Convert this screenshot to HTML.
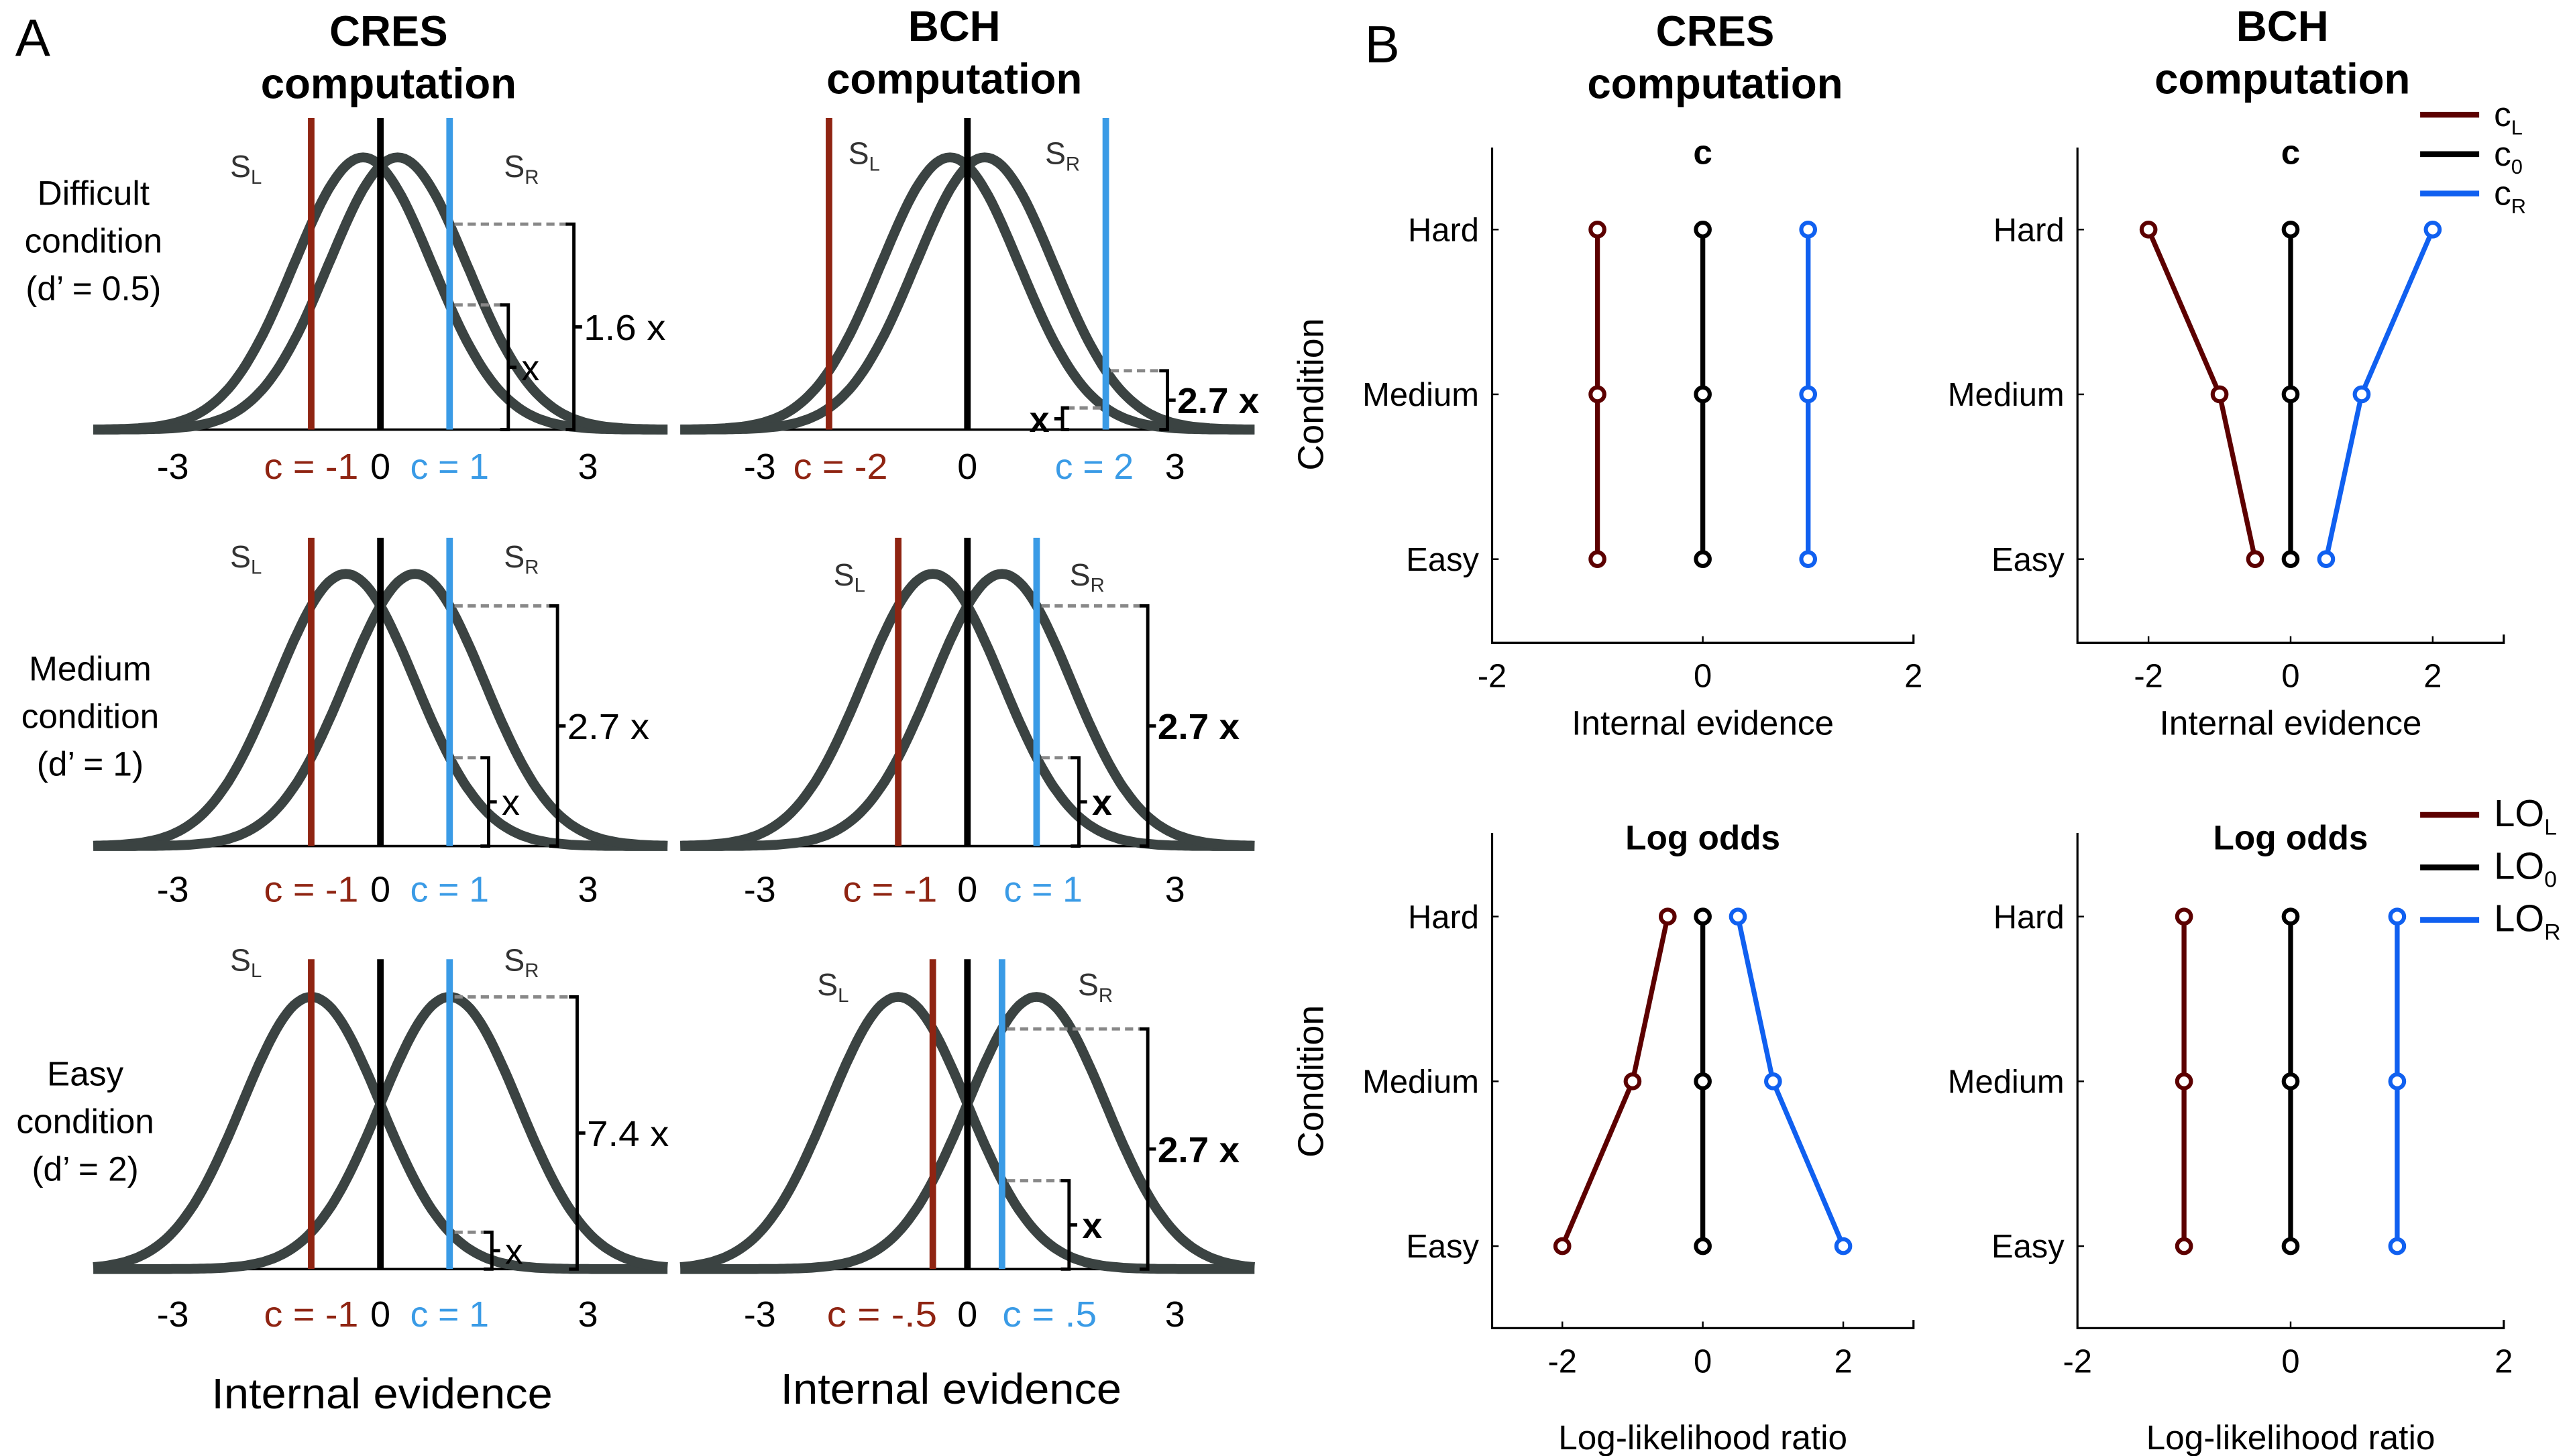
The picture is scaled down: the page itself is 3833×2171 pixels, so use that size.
<!DOCTYPE html>
<html><head><meta charset="utf-8"><style>
html,body{margin:0;padding:0;background:#fff}
svg{display:block}
text{font-family:"Liberation Sans",sans-serif}
</style></head><body>
<svg id="fig" width="3833" height="2171" viewBox="0 0 1568 888" preserveAspectRatio="none" xmlns="http://www.w3.org/2000/svg">
<rect width="1568" height="888" fill="#fff"/>
<g id="A"></g>
<g id="B"></g>
</svg>
<script>
// ---------- Panel A data ----------
const rowDprime = [0.5, 1, 2];
const cresCrit = [1, 1, 1];
const bchCrit = [2, 1, 0.5];
const condLabels = [["Difficult","condition","(d’ = 0.5)"],["Medium","condition","(d’ = 1)"],["Easy","condition","(d’ = 2)"]];
const cresRatios = ["1.6 x","2.7 x","7.4 x"];
const bchRatios = ["2.7 x","2.7 x","2.7 x"];
const cresCritLabels = [["c = -1","c = 1"],["c = -1","c = 1"],["c = -1","c = 1"]];
const bchCritLabels = [["c = -2","c = 2"],["c = -1","c = 1"],["c = -.5","c = .5"]];

// ---------- Panel B data ----------
const conditions = ["Hard","Medium","Easy"];
const cresC_L = [-1,-1,-1], cresC_0 = [0,0,0], cresC_R = [1,1,1];
const bchC_L = [-2,-1,-0.5], bchC_0 = [0,0,0], bchC_R = [2,1,0.5];
const cresLO_L = [-0.5,-1,-2], cresLO_0 = [0,0,0], cresLO_R = [0.5,1,2];
const bchLO_L = [-1,-1,-1], bchLO_0 = [0,0,0], bchLO_R = [1,1,1];
const ticksTop1 = [-2,0,2], ticksTop2 = [-2,0,2], ticksBot1 = [-2,0,2], ticksBot2 = [-2,0,2];

const NS="http://www.w3.org/2000/svg";
function mk(parent,tag,attrs,txt){const e=document.createElementNS(NS,tag);for(const k in attrs)e.setAttribute(k,attrs[k]);if(txt!==undefined)e.textContent=txt;parent.appendChild(e);return e;}
const A=document.getElementById('A'), B=document.getElementById('B');

function txt(p,x,y,s,size,opts){opts=opts||{};const t=mk(p,'text',{x:x,y:y,'font-size':size,'text-anchor':opts.anchor||'middle',fill:opts.fill||'#000','font-weight':opts.bold?'bold':'normal'},s);
if(opts.len){t.setAttribute('textLength',opts.len);t.setAttribute('lengthAdjust','spacingAndGlyphs');}

return t;}

txt(A,20,34,"A",32,{name:'panel-a-letter'});
txt(A,237,28,"CRES",26,{bold:1,name:'cres-title'});
txt(A,237,60,"computation",26,{bold:1,name:'cres-title'});
txt(A,582,25,"BCH",26,{bold:1,name:'bch-title'});
txt(A,582,57,"computation",26,{bold:1,name:'bch-title'});
txt(A,843,38,"B",32,{name:'panel-b-letter'});

const RED_A="#8f2412", BLUE_A="#3a9be6", CURVE="#3b4342";
const baseY=[262,516,774], topY=[72,328,585], Hh=166;
const cols=[{x0:232,s:42.2,crit:cresCrit,ratio:cresRatios,cl:cresCritLabels,name:'cres',big:[350,340,352],small:[310,298,300],lo:[0,0,0],ro:[0,0,0]},
            {x0:590,s:42.2,crit:bchCrit,ratio:bchRatios,cl:bchCritLabels,name:'bch',big:[712,700,700],small:[648,658,652],lo:[7,-5,-31],ro:[-7,4,29]}];
const slPos=[[[150,108],[318,108],[527,100],[648,100]],[[150,346],[318,346],[518,357],[663,357]],[[150,592],[318,592],[508,607],[668,607]]];
const tickY=[292,550,809];
for(let r=0;r<3;r++){
  const d=rowDprime[r];
  condLabels[r].forEach((l,i)=>txt(A,[57,55,52][r],[125,415,662][r]+i*29,l,21,{name:'condition-label'}));
  cols.forEach((c,ci)=>{
    const g=mk(A,'g',{});
    
    
    const X=v=>c.x0+v*c.s, Y=p=>baseY[r]-Hh*p;
    mk(g,'line',{x1:X(-4.1),x2:X(4.1),y1:baseY[r],y2:baseY[r],stroke:'#000','stroke-width':1.5});
    [-d/2,d/2].forEach(mu=>{let pts=[];for(let v=-4.15;v<=4.16;v+=0.05){pts.push(X(v).toFixed(1)+','+Y(Math.exp(-(v-mu)*(v-mu)/2)).toFixed(1));}
      const pl=mk(g,'polyline',{points:pts.join(' '),fill:'none',stroke:CURVE,'stroke-width':6});
      });
    const cr=c.crit[r];
    [[-cr,RED_A],[0,'#000'],[cr,BLUE_A]].forEach(([v,col])=>{const l=mk(g,'line',{x1:X(v),x2:X(v),y1:topY[r],y2:baseY[r],stroke:col,'stroke-width':4});
      });
    const sp=slPos[r];
    const sl=mk(g,'text',{x:sp[ci*2][0],y:sp[ci*2][1],'font-size':19,fill:'#333','text-anchor':'middle'});sl.innerHTML='S<tspan font-size="12" dy="4">L</tspan>';
    
    const sr=mk(g,'text',{x:sp[ci*2+1][0],y:sp[ci*2+1][1],'font-size':19,fill:'#333','text-anchor':'middle'});sr.innerHTML='S<tspan font-size="12" dy="4">R</tspan>';
    
    const lw=s=>s.length*9.6;
    txt(g,X(-3),tickY[r],"-3",22,{name:'tick-label'});
    txt(g,X(3),tickY[r],"3",22,{name:'tick-label'});
    txt(g,X(0),tickY[r],"0",22,{name:'tick-label'});
    txt(g,X(-cr)+c.lo[r],tickY[r],c.cl[r][0],22,{fill:RED_A,name:'criterion-label',len:lw(c.cl[r][0])});
    txt(g,X(cr)+c.ro[r],tickY[r],c.cl[r][1],22,{fill:BLUE_A,name:'criterion-label',len:lw(c.cl[r][1])});
    const pdf=(v,mu)=>Math.exp(-(v-mu)*(v-mu)/2);
    const yBig=Y(pdf(cr,d/2)), ySmall=Y(pdf(cr,-d/2));
    const bxBig=c.big[r], bxSmall=c.small[r];
    const an=mk(g,'g',{});
    mk(an,'line',{x1:X(cr)+3,x2:bxBig-4,y1:yBig,y2:yBig,stroke:'#888','stroke-width':2,'stroke-dasharray':'5,3'});
    mk(an,'path',{d:`M${bxBig-5},${yBig} H${bxBig} V${baseY[r]} H${bxBig-5} M${bxBig},${(yBig+baseY[r])/2} h5`,fill:'none',stroke:'#000','stroke-width':2});
    txt(an,bxBig+6,(yBig+baseY[r])/2+8,c.ratio[r],22,{anchor:'start',bold:ci?1:0,name:'ratio-label',len:50});
    if(ci&&r==0){
      mk(an,'line',{x1:X(cr)-3,x2:bxSmall,y1:ySmall,y2:ySmall,stroke:'#888','stroke-width':2,'stroke-dasharray':'5,3'});
      mk(an,'path',{d:`M${bxSmall+4},${ySmall} H${bxSmall} V${baseY[r]} H${bxSmall+4} M${bxSmall},${(ySmall+baseY[r])/2} h-5`,fill:'none',stroke:'#000','stroke-width':2});
      txt(an,bxSmall-8,(ySmall+baseY[r])/2+8,"x",22,{anchor:'end',bold:1,name:'ratio-x'});
    } else {
      mk(an,'line',{x1:X(cr)+3,x2:bxSmall-4,y1:ySmall,y2:ySmall,stroke:'#888','stroke-width':2,'stroke-dasharray':'5,3'});
      mk(an,'path',{d:`M${bxSmall-5},${ySmall} H${bxSmall} V${baseY[r]} H${bxSmall-5} M${bxSmall},${(ySmall+baseY[r])/2} h5`,fill:'none',stroke:'#000','stroke-width':2});
      txt(an,bxSmall+8,(ySmall+baseY[r])/2+8,"x",22,{anchor:'start',bold:ci?1:0,name:'ratio-x'});
    }
  });
}
txt(A,233,859,"Internal evidence",26,{name:'x-axis-title',len:208});
txt(A,580,856,"Internal evidence",26,{name:'x-axis-title',len:208});

// ---------- Panel B ----------
txt(B,1046,28,"CRES",26,{bold:1,name:'cres-title-b'});
txt(B,1046,60,"computation",26,{bold:1,name:'cres-title-b'});
txt(B,1392,25,"BCH",26,{bold:1,name:'bch-title-b'});
txt(B,1392,57,"computation",26,{bold:1,name:'bch-title-b'});
const RED_B="#5c0000", BLUE_B="#1060f0";
function plot(o){
  const g=mk(B,'g',{});
  
  
  const X=v=>o.x0+(v-o.xmin)/(o.xmax-o.xmin)*(o.x1-o.x0);
  const Y=i=>o.yTop+i*(o.ySp);
  mk(g,'path',{d:`M${o.x0},${o.yA} V${o.yB} H${o.x1} v-5`,fill:'none',stroke:'#000','stroke-width':1.3});
  o.ticks.forEach(t=>{mk(g,'line',{x1:X(t),x2:X(t),y1:o.yB,y2:o.yB-4,stroke:'#000','stroke-width':1});
    txt(g,X(t),o.yB+27,String(t),20,{name:'x-tick-label'});});
  conditions.forEach((c,i)=>{mk(g,'line',{x1:o.x0,x2:o.x0+4,y1:Y(i),y2:Y(i),stroke:'#000','stroke-width':1});
    txt(g,o.x0-8,Y(i)+7,c,20,{anchor:'end',name:'y-tick-label'});});
  txt(g,(o.x0+o.x1)/2,o.yA+10,o.title,21,{bold:1,name:'subplot-title'});
  txt(g,(o.x0+o.x1)/2,o.yB+o.xlabOff,o.xlab,21,{name:'x-axis-title'});
  if(o.ylab){const t=txt(g,0,0,"Condition",22,{name:'y-axis-title'});t.setAttribute('transform',`translate(${o.x0-103},${Y(1)}) rotate(-90)`);}
  [[o.L,RED_B,'series-left'],[o.Z,'#000','series-zero'],[o.R,BLUE_B,'series-right']].forEach(([arr,col,nm])=>{
    const pl=mk(g,'polyline',{points:arr.map((v,i)=>X(v)+','+Y(i)).join(' '),fill:'none',stroke:col,'stroke-width':3});
    
    arr.forEach((v,i)=>{const c=mk(g,'circle',{cx:X(v),cy:Y(i),r:4.2,fill:'#fff',stroke:col,'stroke-width':2.5});
      });
  });
}
plot({name:'cres-c-plot',x0:910,x1:1167,xmin:-2,xmax:2,yA:90,yB:392,yTop:140,ySp:100.5,ticks:ticksTop1,title:'c',xlab:'Internal evidence',xlabOff:56,ylab:1,L:cresC_L,Z:cresC_0,R:cresC_R});
plot({name:'bch-c-plot',x0:1267,x1:1527,xmin:-3,xmax:3,yA:90,yB:392,yTop:140,ySp:100.5,ticks:ticksTop2,title:'c',xlab:'Internal evidence',xlabOff:56,ylab:0,L:bchC_L,Z:bchC_0,R:bchC_R});
plot({name:'cres-logodds-plot',x0:910,x1:1167,xmin:-3,xmax:3,yA:508,yB:810,yTop:559,ySp:100.5,ticks:ticksBot1,title:'Log odds',xlab:'Log-likelihood ratio',xlabOff:74,ylab:1,L:cresLO_L,Z:cresLO_0,R:cresLO_R});
plot({name:'bch-logodds-plot',x0:1267,x1:1527,xmin:-2,xmax:2,yA:508,yB:810,yTop:559,ySp:100.5,ticks:ticksBot2,title:'Log odds',xlab:'Log-likelihood ratio',xlabOff:74,ylab:0,L:bchLO_L,Z:bchLO_0,R:bchLO_R});

function legend(y0,base,dy,sz){
  const g=mk(B,'g',{});
  
  
  [['L',RED_B],['0','#000'],['R',BLUE_B]].forEach(([s,col],i)=>{
    const y=y0+i*dy;
    mk(g,'line',{x1:1476,x2:1512,y1:y,y2:y,stroke:col,'stroke-width':3.5});
    const t=mk(g,'text',{x:1521,y:y+7,'font-size':sz});t.innerHTML=base+'<tspan font-size="'+(sz*0.6)+'" dy="5">'+s+'</tspan>';
    
  });
}
legend(70,'c',24,21);
legend(497,'LO',32,23);
</script>
</body></html>
